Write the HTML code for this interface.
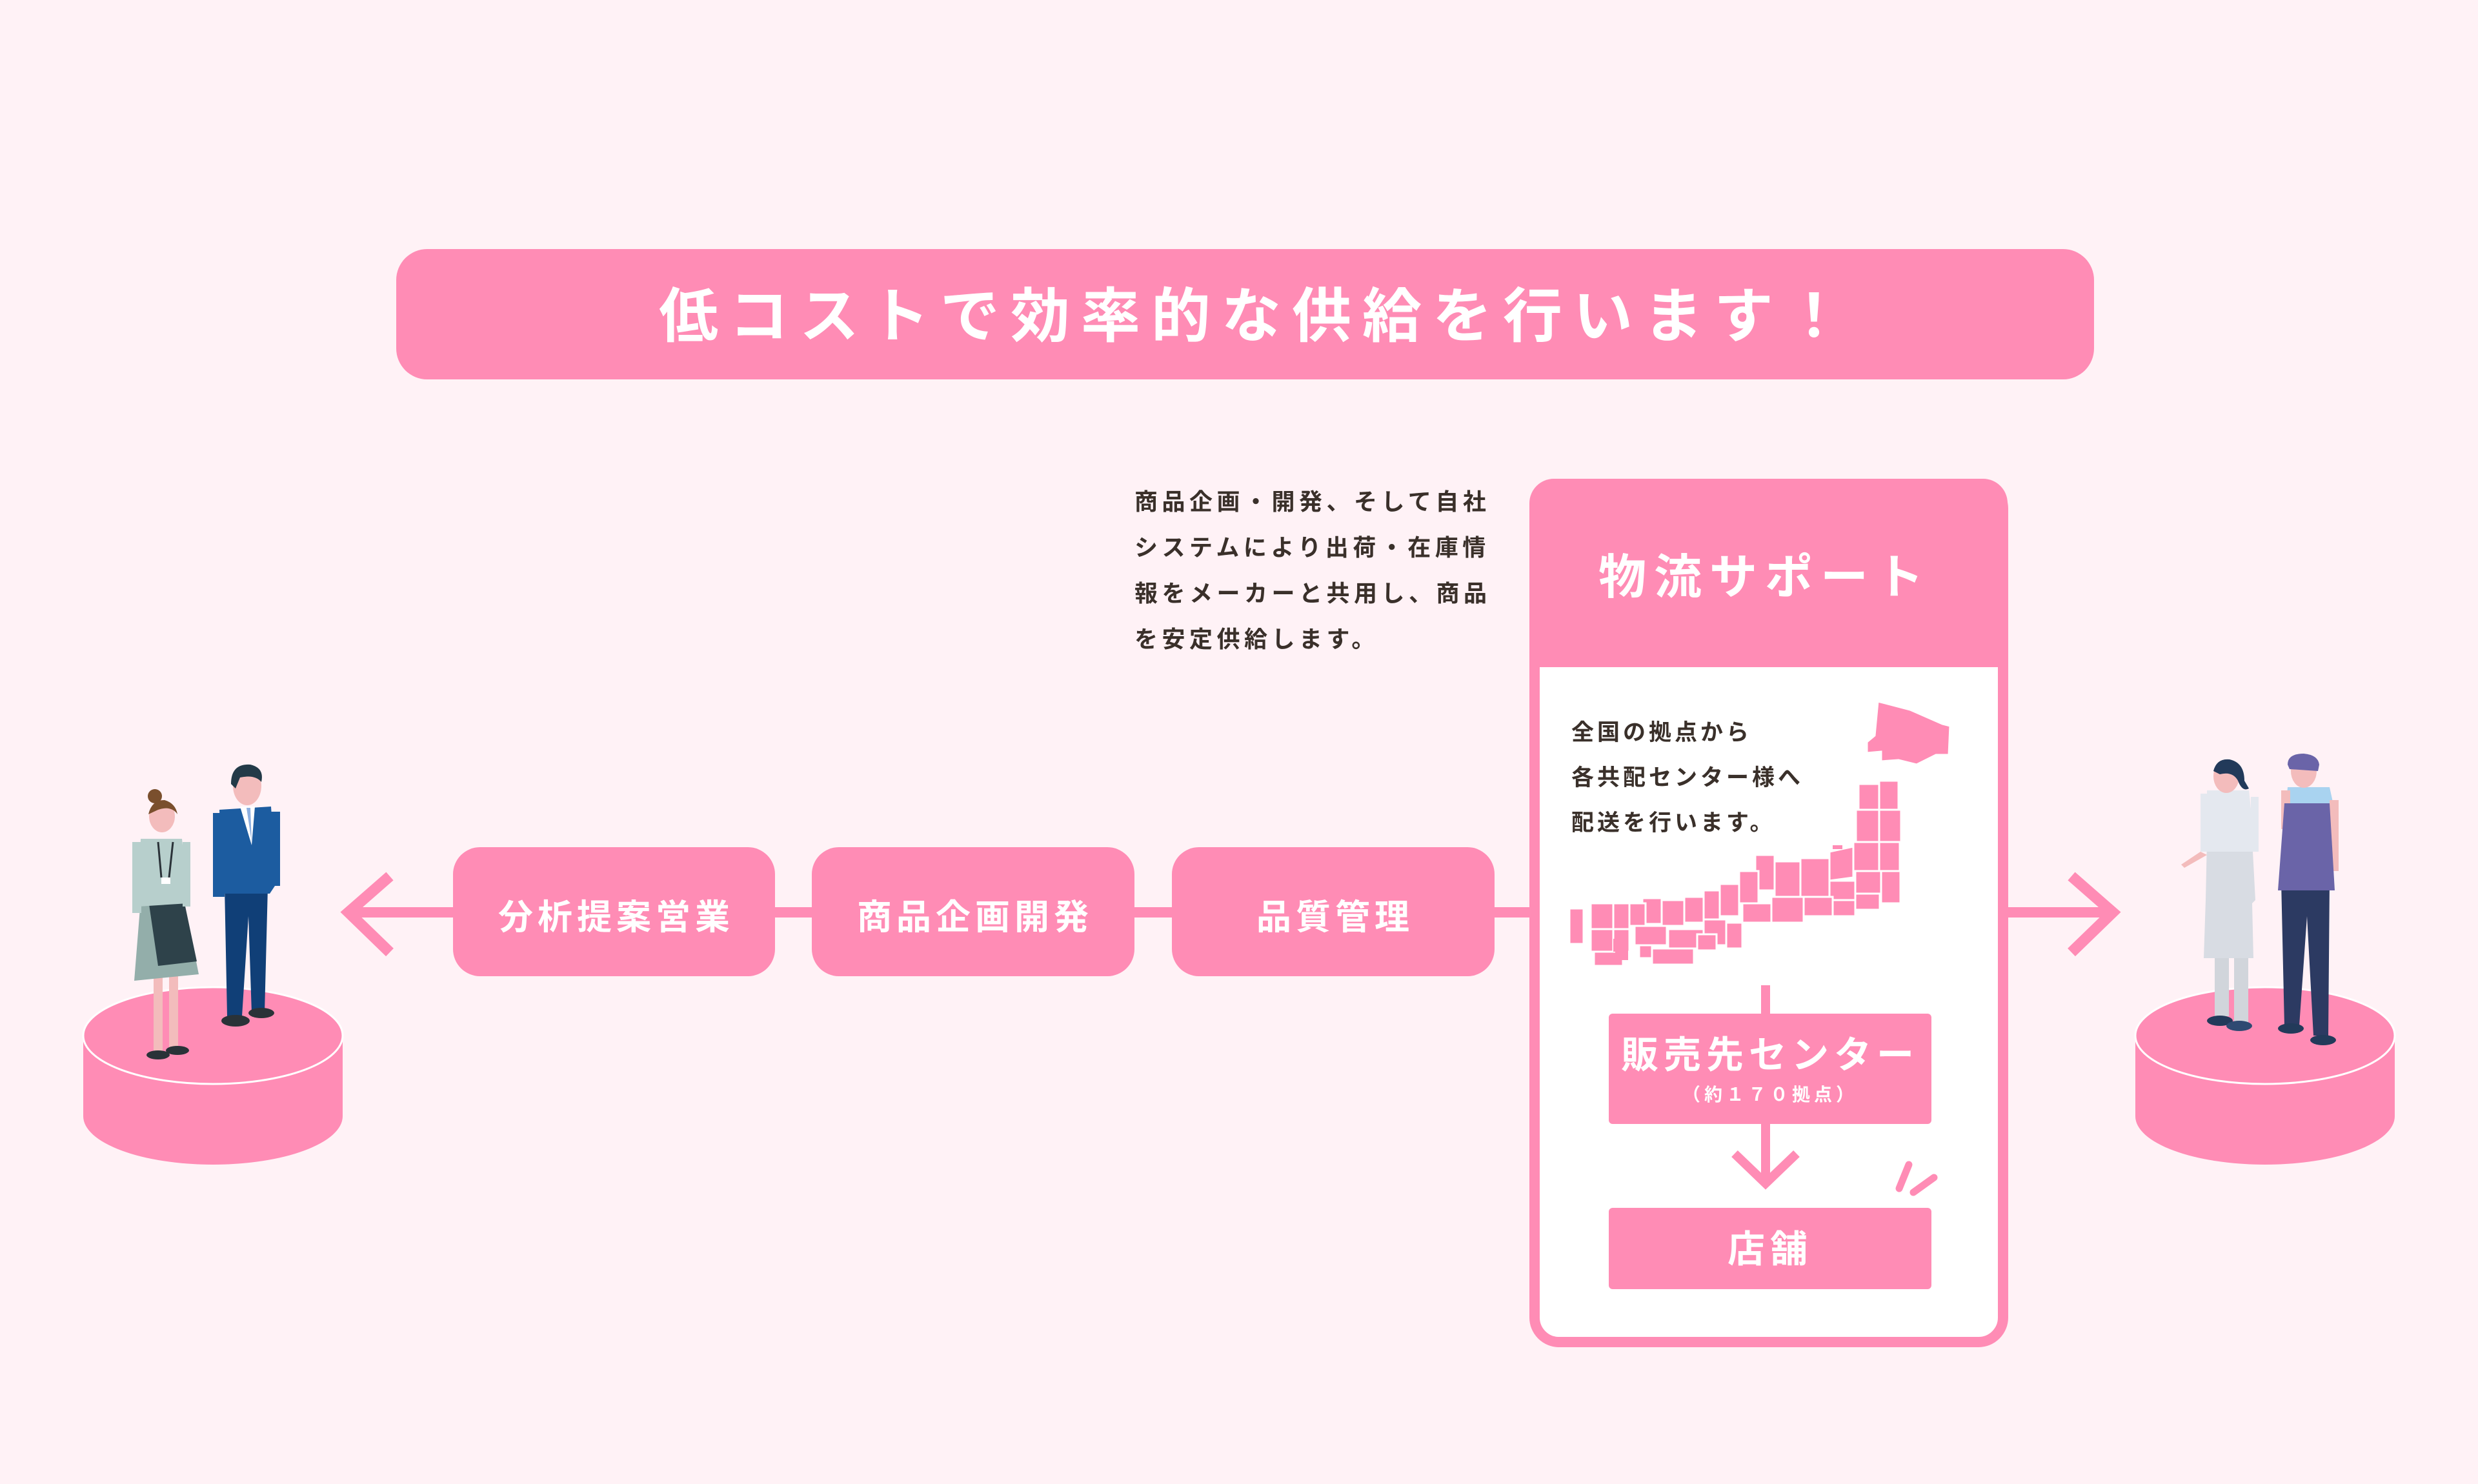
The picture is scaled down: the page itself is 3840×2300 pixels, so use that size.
<!DOCTYPE html>
<html><head><meta charset="utf-8">
<style>
html,body{margin:0;padding:0;background:#fff2f6;}
svg{display:block;}
text{font-family:"Liberation Sans","Noto Sans CJK JP",sans-serif;}
</style></head>
<body>
<svg width="3840" height="2300" viewBox="0 0 3840 2300" xmlns="http://www.w3.org/2000/svg">
<rect width="3840" height="2300" fill="#fff2f6"/>
<!-- title -->
<rect x="614" y="386" width="2631" height="202" rx="48" fill="#ff8cb5"/>
<text x="1021" y="522" font-size="92" font-weight="bold" fill="#fff" letter-spacing="17">低コストで効率的な供給を行います！</text>

<!-- paragraph -->
<g font-size="36" fill="#3a302a" letter-spacing="6.5" font-weight="bold">
<text x="1758" y="790">商品企画・開発、そして自社</text>
<text x="1758" y="861">システムにより出荷・在庫情</text>
<text x="1758" y="932">報をメーカーと共用し、商品</text>
<text x="1758" y="1003">を安定供給します。</text>
</g>

<!-- connector lines -->
<rect x="540" y="1406" width="1840" height="16" fill="#ff8cb5"/>
<rect x="3100" y="1406" width="175" height="16" fill="#ff8cb5"/>
<polyline points="604,1358 540,1414 604,1476" fill="none" stroke="#ff8cb5" stroke-width="17"/>
<polyline points="3210,1358 3274,1414 3210,1476" fill="none" stroke="#ff8cb5" stroke-width="17"/>

<!-- boxes -->
<g fill="#ff8cb5">
<rect x="702" y="1313" width="499" height="200" rx="42"/>
<rect x="1258" y="1313" width="500" height="200" rx="42"/>
<rect x="1816" y="1313" width="500" height="200" rx="42"/>
</g>
<g font-size="54" font-weight="bold" fill="#fff" text-anchor="middle" letter-spacing="7">
<text x="955" y="1440">分析提案営業</text>
<text x="1511" y="1440">商品企画開発</text>
<text x="2069" y="1440">品質管理</text>
</g>

<!-- logistics panel -->
<rect x="2378" y="750" width="726" height="1330" rx="38" fill="#fff" stroke="#ff8cb5" stroke-width="16"/>
<path d="M2370,1034 V780 a38,38 0 0 1 38,-38 H3073 a38,38 0 0 1 38,38 V1034 Z" fill="#ff8cb5"/>
<rect x="2370" y="1030" width="15" height="1000" fill="#ff8cb5"/>
<rect x="3096" y="1030" width="15" height="1000" fill="#ff8cb5"/>
<text x="2735" y="920" font-size="74" font-weight="bold" fill="#fff" text-anchor="middle" letter-spacing="12">物流サポート</text>
<g font-size="35" fill="#3a302a" letter-spacing="5" font-weight="bold">
<text x="2435" y="1147">全国の拠点から</text>
<text x="2435" y="1217">各共配センター様へ</text>
<text x="2435" y="1287">配送を行います。</text>
</g>
<!-- Japan map (approx) -->
<g fill="#ff8cb5" stroke="#fff" stroke-width="3">
<path d="M2910,1087 L2960,1100 L3010,1122 L3022,1125 L3020,1170 L3000,1170 L2970,1185 L2942,1178 L2915,1180 L2915,1165 L2893,1167 L2893,1150 L2905,1140 Z"/>
<rect x="2880" y="1215" width="32" height="40"/>
<rect x="2912" y="1210" width="30" height="45"/>
<rect x="2876" y="1255" width="36" height="50"/>
<rect x="2912" y="1255" width="34" height="50"/>
<rect x="2872" y="1305" width="40" height="45"/>
<rect x="2912" y="1305" width="32" height="45"/>
<path d="M2835,1320 L2872,1312 L2872,1360 L2835,1365 Z"/>
<rect x="2790" y="1330" width="45" height="60"/>
<rect x="2835" y="1365" width="40" height="30"/>
<rect x="2875" y="1350" width="40" height="35"/>
<rect x="2915" y="1350" width="30" height="50"/>
<rect x="2750" y="1335" width="40" height="55"/>
<rect x="2720" y="1325" width="30" height="55"/>
<rect x="2695" y="1350" width="30" height="50"/>
<rect x="2700" y="1400" width="45" height="30"/>
<rect x="2745" y="1390" width="50" height="40"/>
<rect x="2795" y="1390" width="45" height="30"/>
<rect x="2840" y="1395" width="35" height="25"/>
<rect x="2875" y="1385" width="38" height="25"/>
<rect x="2665" y="1370" width="30" height="50"/>
<rect x="2640" y="1380" width="25" height="45"/>
<rect x="2640" y="1425" width="35" height="40"/>
<rect x="2675" y="1430" width="25" height="40"/>
<rect x="2610" y="1390" width="30" height="40"/>
<rect x="2575" y="1395" width="35" height="40"/>
<rect x="2545" y="1392" width="30" height="40"/>
<rect x="2520" y="1400" width="30" height="35"/>
<rect x="2585" y="1440" width="55" height="30"/>
<rect x="2630" y="1448" width="30" height="25"/>
<rect x="2533" y="1435" width="50" height="30"/>
<rect x="2465" y="1400" width="35" height="40"/>
<rect x="2500" y="1400" width="25" height="40"/>
<rect x="2560" y="1470" width="65" height="25"/>
<rect x="2540" y="1465" width="20" height="20"/>
<rect x="2465" y="1440" width="35" height="35"/>
<rect x="2500" y="1440" width="25" height="35"/>
<rect x="2470" y="1475" width="45" height="22"/>
<rect x="2432" y="1408" width="22" height="55"/>
</g>
<g fill="#ff8cb5">
<rect x="2500" y="1455" width="10" height="20"/>
<rect x="2503" y="1466" width="20" height="22"/>
<rect x="2840" y="1310" width="15" height="6"/>
</g>
<!-- flow inside -->
<rect x="2729" y="1527" width="14" height="46" fill="#ff8cb5"/>
<rect x="2493" y="1571" width="500" height="171" rx="6" fill="#ff8cb5"/>
<text x="2743" y="1655" font-size="58" font-weight="bold" fill="#fff" text-anchor="middle" letter-spacing="8">販売先センター</text>
<text x="2743" y="1706" font-size="28" font-weight="bold" fill="#fff" text-anchor="middle" letter-spacing="6">（約１７０拠点）</text>
<rect x="2729" y="1742" width="14" height="90" fill="#ff8cb5"/>
<polyline points="2688,1788 2736,1834 2784,1788" fill="none" stroke="#ff8cb5" stroke-width="14"/>
<line x1="2943" y1="1842" x2="2958" y2="1805" stroke="#ff8cb5" stroke-width="11" stroke-linecap="round"/>
<line x1="2965" y1="1848" x2="2997" y2="1825" stroke="#ff8cb5" stroke-width="11" stroke-linecap="round"/>
<rect x="2493" y="1872" width="500" height="126" rx="6" fill="#ff8cb5"/>
<text x="2743" y="1956" font-size="58" font-weight="bold" fill="#fff" text-anchor="middle" letter-spacing="8">店舗</text>

<!-- left platform -->
<path d="M129,1605 V1730 A201,75 0 0 0 531,1730 V1605 Z" fill="#ff8cb5"/>
<ellipse cx="330" cy="1605" rx="201" ry="75" fill="#ff8cb5" stroke="#fff" stroke-width="3"/>
<!-- right platform -->
<path d="M3309,1605 V1730 A201,75 0 0 0 3711,1730 V1605 Z" fill="#ff8cb5"/>
<ellipse cx="3510" cy="1605" rx="201" ry="75" fill="#ff8cb5" stroke="#fff" stroke-width="3"/>

<!-- left woman -->
<g>
<rect x="238" y="1510" width="14" height="120" fill="#f3bcbc"/>
<rect x="262" y="1505" width="14" height="118" fill="#f3bcbc"/>
<ellipse cx="245" cy="1635" rx="18" ry="7" fill="#2a3238"/>
<ellipse cx="275" cy="1628" rx="18" ry="7" fill="#2a3238"/>
<path d="M218,1395 L285,1395 L308,1510 L208,1520 Z" fill="#93aeaa"/>
<path d="M230,1395 L285,1395 L305,1490 L245,1497 Z" fill="#2e424a"/>
<path d="M218,1300 L282,1300 L292,1400 L214,1405 Z" fill="#b7cfcc"/>
<rect x="205" y="1305" width="14" height="110" fill="#b7cfcc"/>
<rect x="283" y="1305" width="12" height="100" fill="#b7cfcc"/>
<line x1="245" y1="1305" x2="250" y2="1360" stroke="#2a3238" stroke-width="3"/>
<line x1="268" y1="1305" x2="262" y2="1360" stroke="#2a3238" stroke-width="3"/>
<rect x="250" y="1360" width="14" height="10" fill="#fff"/>
<ellipse cx="251" cy="1265" rx="20" ry="25" fill="#f3bcbc"/>
<circle cx="240" cy="1234" r="11" fill="#7a4f2d"/>
<path d="M230,1262 Q235,1240 255,1240 Q272,1245 275,1262 Q265,1248 245,1255 Z" fill="#7a4f2d"/>
</g>
<!-- left man -->
<g>
<path d="M348,1375 L415,1375 L410,1570 L390,1570 L385,1420 L375,1575 L352,1575 Z" fill="#103f77"/>
<ellipse cx="365" cy="1582" rx="22" ry="9" fill="#2a3238"/>
<ellipse cx="405" cy="1570" rx="20" ry="8" fill="#2a3238"/>
<path d="M340,1255 L420,1250 L428,1370 L418,1385 L345,1385 Z" fill="#1c5ca0"/>
<rect x="330" y="1260" width="18" height="130" fill="#1c5ca0"/>
<rect x="420" y="1258" width="14" height="115" fill="#1c5ca0"/>
<path d="M372,1250 L395,1250 L390,1310 Z" fill="#fff"/>
<path d="M382,1252 L388,1252 L390,1305 Z" fill="#8fb0e0"/>
<ellipse cx="383" cy="1218" rx="22" ry="30" fill="#f3bcbc"/>
<path d="M358,1215 Q358,1183 388,1185 Q410,1190 405,1212 Q395,1200 372,1205 L365,1222 Z" fill="#233a48"/>
</g>

<!-- right woman -->
<g>
<rect x="3432" y="1470" width="22" height="105" fill="#d1d5db"/>
<rect x="3462" y="1470" width="22" height="115" fill="#d1d5db"/>
<ellipse cx="3440" cy="1582" rx="20" ry="8" fill="#223a5a"/>
<ellipse cx="3470" cy="1590" rx="20" ry="8" fill="#2f4a72"/>
<path d="M3420,1300 L3490,1300 L3495,1395 L3490,1400 L3492,1485 L3415,1485 L3418,1395 Z" fill="#d8dce3"/>
<path d="M3420,1225 L3485,1225 L3495,1320 L3420,1320 Z" fill="#e4e8ef"/>
<rect x="3410" y="1230" width="14" height="90" fill="#e4e8ef"/>
<path d="M3410,1320 L3380,1340 L3385,1345 L3420,1325 Z" fill="#f3bcbc"/>
<rect x="3488" y="1235" width="12" height="85" fill="#e4e8ef"/>
<ellipse cx="3450" cy="1203" rx="20" ry="26" fill="#f3bcbc"/>
<path d="M3430,1195 Q3435,1175 3455,1177 Q3478,1182 3478,1210 L3485,1222 Q3475,1228 3468,1210 Q3460,1195 3440,1200 Z" fill="#223a5a"/>
</g>
<!-- right man -->
<g>
<path d="M3535,1365 L3610,1365 L3608,1605 L3585,1605 L3575,1420 L3563,1590 L3540,1590 Z" fill="#2c3a62"/>
<ellipse cx="3550" cy="1594" rx="20" ry="8" fill="#223a5a"/>
<ellipse cx="3600" cy="1612" rx="20" ry="8" fill="#223a5a"/>
<path d="M3545,1220 L3610,1220 L3622,1275 L3540,1275 Z" fill="#a9d3f0"/>
<rect x="3535" y="1225" width="14" height="60" fill="#f3bcbc"/>
<rect x="3610" y="1240" width="14" height="110" fill="#f3bcbc"/>
<path d="M3540,1245 L3610,1245 L3618,1380 L3530,1380 Z" fill="#6a64a8"/>
<ellipse cx="3570" cy="1195" rx="20" ry="26" fill="#f3bcbc"/>
<path d="M3545,1185 Q3545,1168 3570,1168 Q3592,1170 3594,1185 L3592,1195 L3548,1192 Z" fill="#6a64a8"/>
</g>
</svg>
</body></html>
